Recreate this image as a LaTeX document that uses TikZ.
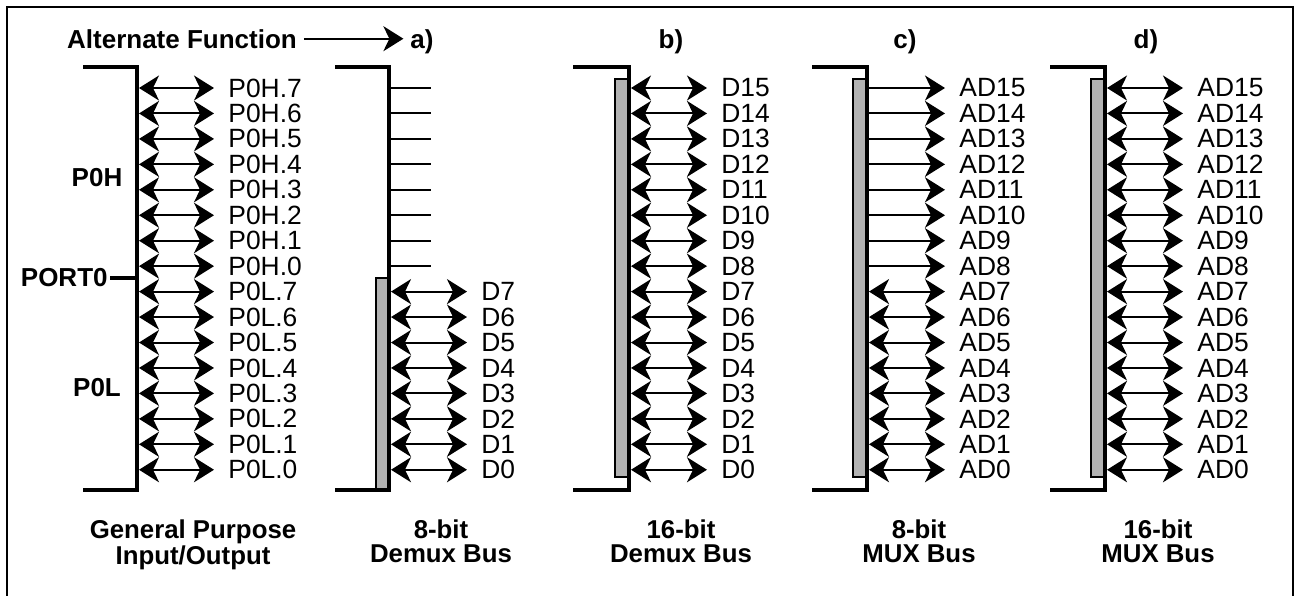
\documentclass[tikz,border=0pt]{standalone}
\usepackage{fontspec}
\setmainfont{Liberation Sans}
\usepackage{tikz}
\usetikzlibrary{arrows.meta,positioning}

\begin{document}
\begin{tikzpicture}[x=0.5pt,y=-0.5pt,
  font=\fontsize{13.2}{15}\selectfont,
  port/.style={line width=2pt},
  bar/.style={draw=black,line width=0.75pt,fill=black!30},
  dbl/.style={{Stealth[length=10pt,width=12.5pt,inset=3pt]}-{Stealth[length=10pt,width=12.5pt,inset=3pt]},
              line width=1pt},
  outarrow/.style={-{Stealth[length=10pt,width=12.5pt,inset=3pt]},line width=1pt},
  stub/.style={line width=1pt},
  pinlabel/.style={anchor=west,inner xsep=7pt,inner ysep=0pt},
  heading/.style={anchor=base,font=\fontsize{13}{15}\selectfont\bfseries},
  caption/.style={anchor=north,inner sep=0pt,align=center,
                  font=\fontsize{12.9}{12}\selectfont\bfseries}
]
\useasboundingbox (0,0) rectangle (1296,595);
\draw[line width=1pt] (7,7) rectangle (1293,600);

% Headings.
\node[heading] (altfn) at (182,48) {Alternate Function};
\node[heading] (hdra) at (422,48) {a)};
\node[heading] (hdrb) at (671,48) {b)};
\node[heading] (hdrc) at (905,48) {c)};
\node[heading] (hdrd) at (1146,48) {d)};
\draw[outarrow] (altfn.east) -- (altfn.east -| hdra.west);

% General purpose I/O.
\draw[port] (83,67) -- (137,67) -- (137,490) -- (83,490);
\node[heading,anchor=center] (p0h) at (97,178) {P0H};
\node[heading,anchor=center] (p0l) at (97,388) {P0L};
\node[heading,anchor=east,inner xsep=1pt] (port0) at (110,278) {PORT0};
\coordinate (gpiomid) at (137,278);
\draw[port] (port0.east) -- (gpiomid);
\foreach \i [evaluate=\i as \y using 88+25.45*\i,
             evaluate=\i as \n using {int(7-\i+8*(\i>7))}] in {0,...,15} {
  \ifnum\i<8 \def\grp{H}\else\def\grp{L}\fi
  \coordinate (gpio\i) at (139,\y);
  \node[pinlabel] (gpiolbl\i) at (214,\y) {P0\grp.\n};
  \draw[dbl] (gpio\i) -- (gpiolbl\i.west);
}

% a) 8-bit demultiplexed bus.
\draw[bar] (376,278) rectangle (389,490);
\draw[port] (335,67) -- (389,67) -- (389,490) -- (335,490);
\foreach \i [evaluate=\i as \y using 88+25.45*\i] in {0,...,7} {
  \coordinate (demuxa\i) at (391,\y);
  \coordinate (stuba\i) at (431,\y);
  \draw[stub] (demuxa\i) -- (stuba\i);
}
\foreach \i [evaluate=\i as \y using 88+25.45*\i,
             evaluate=\i as \n using int(15-\i)] in {8,...,15} {
  \coordinate (demuxa\i) at (391,\y);
  \node[pinlabel] (demuxalbl\i) at (467,\y) {D\n};
  \draw[dbl] (demuxa\i) -- (demuxalbl\i.west);
}

% b) 16-bit demultiplexed bus.
\draw[bar] (615,79) rectangle (629,477);
\draw[port] (573,67) -- (629,67) -- (629,490) -- (573,490);
\foreach \i [evaluate=\i as \y using 88+25.45*\i,
             evaluate=\i as \n using int(15-\i)] in {0,...,15} {
  \coordinate (demuxb\i) at (631,\y);
  \node[pinlabel] (demuxblbl\i) at (707,\y) {D\n};
  \draw[dbl] (demuxb\i) -- (demuxblbl\i.west);
}

% c) 8-bit multiplexed bus.
\draw[bar] (853,79) rectangle (867,477);
\draw[port] (812,67) -- (867,67) -- (867,490) -- (812,490);
\foreach \i [evaluate=\i as \y using 88+25.45*\i,
             evaluate=\i as \n using int(15-\i)] in {0,...,15} {
  \coordinate (muxc\i) at (869,\y);
  \node[pinlabel] (muxclbl\i) at (945,\y) {AD\n};
  \ifnum\i<8
    \draw[outarrow] (muxc\i) -- (muxclbl\i.west);
  \else
    \draw[dbl] (muxc\i) -- (muxclbl\i.west);
  \fi
}

% d) 16-bit multiplexed bus.
\draw[bar] (1091,79) rectangle (1105,477);
\draw[port] (1050,67) -- (1105,67) -- (1105,490) -- (1050,490);
\foreach \i [evaluate=\i as \y using 88+25.45*\i,
             evaluate=\i as \n using int(15-\i)] in {0,...,15} {
  \coordinate (muxd\i) at (1107,\y);
  \node[pinlabel] (muxdlbl\i) at (1183,\y) {AD\n};
  \draw[dbl] (muxd\i) -- (muxdlbl\i.west);
}

% Captions.
\node[caption] (capgpio) at (193,519) {General Purpose\\Input/Output};
\node[caption] (capa) at (441,519) {8-bit\\Demux Bus};
\node[caption] (capb) at (681,519) {16-bit\\Demux Bus};
\node[caption] (capc) at (919,519) {8-bit\\MUX Bus};
\node[caption] (capd) at (1158,519) {16-bit\\MUX Bus};
\end{tikzpicture}
\end{document}
